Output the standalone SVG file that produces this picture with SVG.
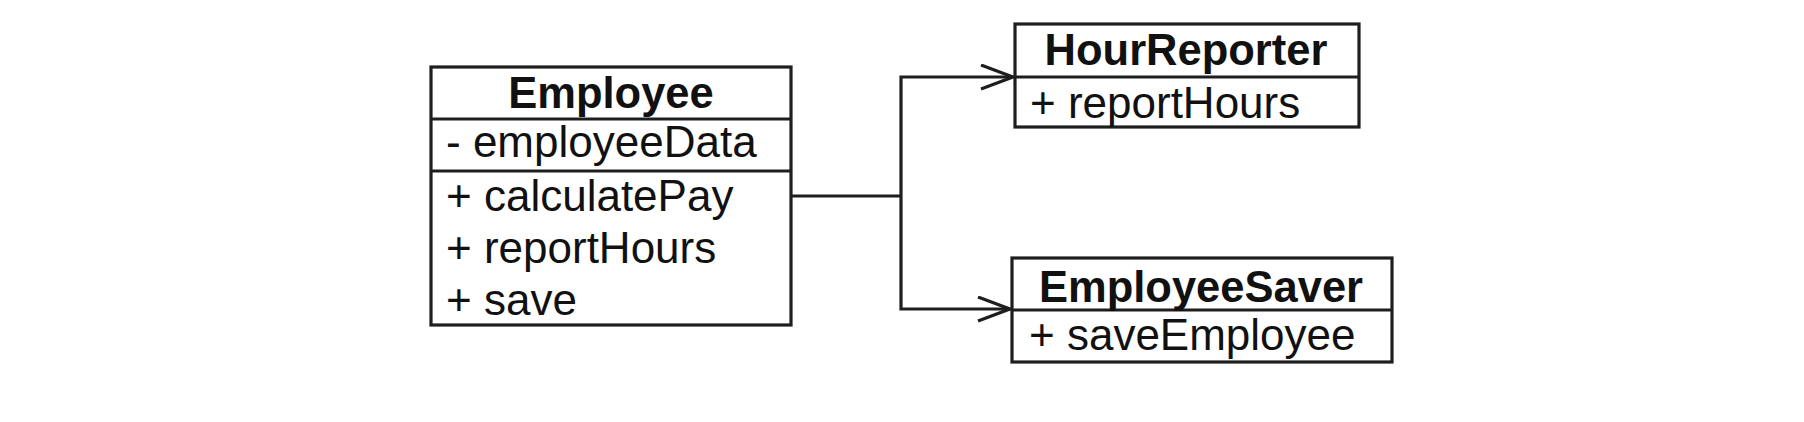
<svg xmlns="http://www.w3.org/2000/svg" width="1804" height="422" viewBox="0 0 1804 422">
  <style>
    .box { fill: #ffffff; stroke: #1e1e1e; stroke-width: 3.2; }
    .sep { stroke: #1e1e1e; stroke-width: 3.2; }
    .title { font-family: "Liberation Sans", Arial, sans-serif; font-size: 43.5px; font-weight: bold; fill: #111111; text-anchor: middle; }
    .item { font-family: "Liberation Sans", Arial, sans-serif; font-size: 44px; fill: #111111; }
    .conn { fill: none; stroke: #1e1e1e; stroke-width: 3.2; }
  </style>
  <defs>
    <marker id="open" markerUnits="userSpaceOnUse" markerWidth="40" markerHeight="30" refX="33" refY="13" orient="auto">
      <polyline points="1,1 33,13 1,25" fill="none" stroke="#1e1e1e" stroke-width="3.2"/>
    </marker>
  </defs>
  <rect width="1804" height="422" fill="#ffffff"/>

  <g id="connectors">
    <polyline class="conn" points="791,196 901,196"/>
    <polyline class="conn" points="901,196 901,77 1013,77" marker-end="url(#open)"/>
    <polyline class="conn" points="901,196 901,309 1010,309" marker-end="url(#open)"/>
  </g>

  <g id="employee">
    <rect class="box" x="431" y="67" width="360" height="258"/>
    <line class="sep" x1="431" y1="119" x2="791" y2="119"/>
    <line class="sep" x1="431" y1="171" x2="791" y2="171"/>
    <text class="title" x="611" y="108">Employee</text>
    <text class="item" x="446" y="157">- employeeData</text>
    <text class="item" x="446" y="211">+ calculatePay</text>
    <text class="item" x="446" y="263">+ reportHours</text>
    <text class="item" x="446" y="315">+ save</text>
  </g>

  <g id="hourreporter">
    <rect class="box" x="1015" y="24" width="344" height="103"/>
    <line class="sep" x1="1015" y1="77" x2="1359" y2="77"/>
    <text class="title" x="1186" y="65">HourReporter</text>
    <text class="item" x="1030" y="118">+ reportHours</text>
  </g>

  <g id="employeesaver">
    <rect class="box" x="1012" y="258" width="380" height="104"/>
    <line class="sep" x1="1012" y1="310" x2="1392" y2="310"/>
    <text class="title" x="1201" y="302">EmployeeSaver</text>
    <text class="item" x="1029" y="350">+ saveEmployee</text>
  </g>
</svg>
